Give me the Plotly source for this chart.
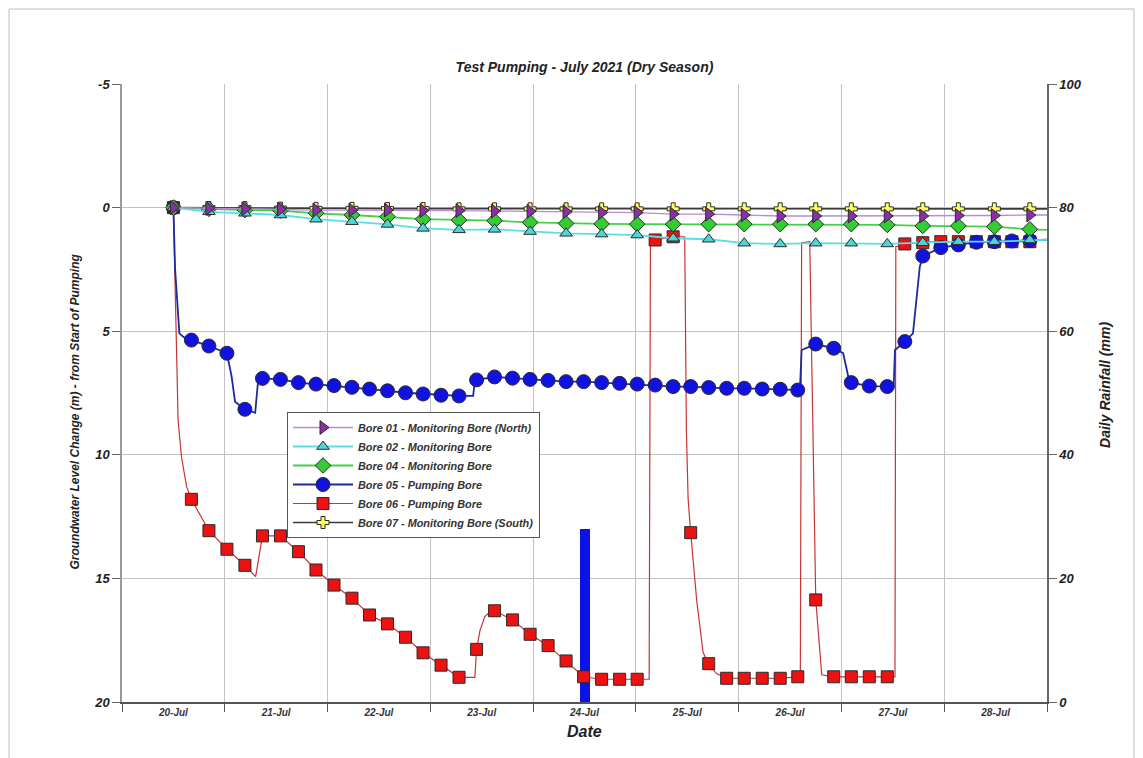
import plotly.graph_objects as go
import pandas as pd

# ---------------- DATA ----------------
BASE = pd.Timestamp("2021-07-20")

DATE_LABELS = ["20-Jul", "21-Jul", "22-Jul", "23-Jul", "24-Jul",
               "25-Jul", "26-Jul", "27-Jul", "28-Jul"]

GW_TICKS = [-5, 0, 5, 10, 15, 20]
GW_TICK_LABELS = ["-5", "0", "5", "10", "15", "20"]
RAIN_TICKS = [0, 20, 40, 60, 80, 100]

# Pumping-bore marker times (hours from 20-Jul 00:00)
PUMP_MARK_H = [12.0, 16.2, 20.3, 24.5, 28.7, 32.8, 37.0, 41.2, 45.3, 49.5, 53.7,
               57.8, 62.0, 66.2, 70.3, 74.5, 78.7, 82.8, 87.0, 91.2, 95.3,
               99.5, 103.7, 107.8, 112.0, 116.2, 120.3, 124.5, 128.7, 132.8, 137.0,
               141.2, 145.3, 149.5, 153.7, 157.8, 162.0, 166.2, 170.3, 174.5, 178.7,
               182.8, 187.0, 191.2, 195.3, 199.5, 203.7, 207.8, 212.0]

BORE06_MARK = [0.0, 11.80, 13.07, 13.82, 14.47, 13.28, 13.28, 13.92, 14.66, 15.27, 15.80,
               16.48, 16.84, 17.38, 18.01, 18.51, 19.00, 17.87, 16.31, 16.68, 17.26,
               17.72, 18.34, 18.98, 19.08, 19.08, 19.08, 1.31, 1.18, 13.15, 18.45,
               19.04, 19.04, 19.04, 19.04, 18.98, 15.87, 18.98, 18.98, 18.98, 18.98,
               1.47, 1.42, 1.38, 1.38, 1.38, 1.38, 1.38, 1.38]
# additional logged points of the Bore 06 trace (between markers)
BORE06_EXTRA_H = [12.6, 13.1, 13.9, 15.1, 31.2, 82.4, 83.6, 84.7, 85.9,
                  123.1, 123.4, 131.4, 131.8, 132.2, 134.2, 135.7, 138.8,
                  158.4, 158.7, 160.6, 163.4, 180.5, 180.7]
BORE06_EXTRA_V = [5.0, 8.6, 10.1, 11.3, 14.93, 19.0, 17.1, 16.55, 16.35,
                  19.08, 1.25, 1.18, 9.1, 11.8, 15.9, 18.0, 18.85,
                  18.98, 1.42, 1.38, 18.9, 18.98, 1.58]

BORE05_MARK = [0.0, 5.36, 5.60, 5.89, 8.16, 6.91, 6.95, 7.08, 7.14, 7.20, 7.27,
               7.34, 7.41, 7.49, 7.54, 7.59, 7.62, 6.97, 6.85, 6.90, 6.95,
               6.99, 7.04, 7.04, 7.08, 7.11, 7.14, 7.18, 7.24, 7.24, 7.28,
               7.31, 7.31, 7.34, 7.35, 7.38, 5.52, 5.69, 7.08, 7.22, 7.24,
               5.42, 1.96, 1.62, 1.51, 1.40, 1.38, 1.35, 1.33]
BORE05_EXTRA_H = [12.4, 13.4, 14.5, 25.6, 26.4, 31.1, 31.8, 82.0, 82.4,
                  158.3, 158.7, 168.4, 169.6, 180.2, 180.5, 184.7, 185.5, 186.3, 216.0]
BORE05_EXTRA_V = [2.5, 5.09, 5.25, 6.84, 7.85, 8.30, 6.97, 7.62, 6.97,
                  7.38, 5.76, 5.89, 6.84, 7.24, 5.76, 5.09, 3.74, 2.39, 1.30]

# Monitoring-bore marker times (hours from 20-Jul 00:00)
MON_MARK_H = [12.0, 20.3, 28.7, 37.0, 45.3, 53.7, 62.0, 70.3, 78.7, 87.0, 95.3,
              103.7, 112.0, 120.3, 128.7, 137.0, 145.3, 153.7, 162.0, 170.3,
              178.7, 187.0, 195.3, 203.7, 212.0]
MON_END_H = 216.0

BORE01_MARK = [0.0, 0.03, 0.05, 0.07, 0.10, 0.10, 0.10, 0.12, 0.12, 0.14, 0.15, 0.17,
               0.20, 0.20, 0.26, 0.26, 0.30, 0.34, 0.34, 0.34, 0.34, 0.34, 0.32, 0.32, 0.30]
BORE01_END = 0.30
BORE02_MARK = [0.0, 0.17, 0.23, 0.30, 0.47, 0.57, 0.68, 0.84, 0.90, 0.88, 0.97, 1.04,
               1.07, 1.11, 1.24, 1.28, 1.44, 1.47, 1.44, 1.44, 1.47, 1.42, 1.38, 1.38, 1.31]
BORE02_END = 1.30
BORE04_MARK = [0.0, 0.05, 0.10, 0.12, 0.23, 0.30, 0.37, 0.47, 0.50, 0.53, 0.60, 0.64,
               0.66, 0.67, 0.67, 0.67, 0.67, 0.67, 0.67, 0.67, 0.70, 0.74, 0.74, 0.77, 0.88]
BORE04_END = 0.90
BORE07_MARK = [0.0, 0.0, 0.0, 0.02, 0.03, 0.03, 0.04, 0.04, 0.05, 0.05, 0.05, 0.05,
               0.05, 0.05, 0.05, 0.05, 0.05, 0.05, 0.05, 0.05, 0.05, 0.05, 0.05, 0.05, 0.05]
BORE07_END = 0.05

RAIN_DATE = ["2021-07-24 12:00"]
RAIN_MM = [28.0]

SERIES_NAMES = ["Bore 01 - Monitoring Bore (North)", "Bore 02 - Monitoring Bore",
                "Bore 04 - Monitoring Bore", "Bore 05 - Pumping Bore",
                "Bore 06 - Pumping Bore", "Bore 07 - Monitoring Bore (South)"]

# ---------------- HELPERS ----------------
def to_dt(hours):
    return [BASE + pd.Timedelta(hours=h) for h in hours]

def merge(h1, v1, h2, v2):
    pts = sorted(zip(list(h1) + list(h2), list(v1) + list(v2)), key=lambda p: p[0])
    return [p[0] for p in pts], [p[1] for p in pts]

FONT = "Liberation Sans, Arial, sans-serif"
OUTLINE = "#2a2a2a"

STYLE = {
    SERIES_NAMES[0]: dict(sym="triangle-right", fill="#8B2FA8", line="#B98AD6", lw=1.3, size=12),
    SERIES_NAMES[1]: dict(sym="triangle-up", fill="#4ED6D6", line="#5CDDE3", lw=1.8, size=11),
    SERIES_NAMES[2]: dict(sym="diamond", fill="#33CC33", line="#45D045", lw=1.8, size=12),
    SERIES_NAMES[3]: dict(sym="circle", fill="#1212E0", line="#1E2A9C", lw=1.8, size=14),
    SERIES_NAMES[4]: dict(sym="square", fill="#EE1111", line="#C83535", lw=1.2, size=12),
    SERIES_NAMES[5]: dict(sym="cross", fill="#FFFF55", line="#3a3a3a", lw=1.6, size=10),
}

fig = go.Figure()

# rainfall bar on base axis (drawn beneath groundwater traces)
fig.add_trace(go.Bar(x=RAIN_DATE, y=RAIN_MM, width=8.4e6, marker_color="#0A14E6",
                     marker_line_width=0, showlegend=False, yaxis="y", xaxis="x"))

def add_series(name, line_h, line_v, mark_h, mark_v):
    s = STYLE[name]
    fig.add_trace(go.Scatter(x=to_dt(line_h), y=line_v, mode="lines",
                             line=dict(color=s["line"], width=s["lw"]),
                             showlegend=False, yaxis="y2", hoverinfo="skip"))
    fig.add_trace(go.Scatter(x=to_dt(mark_h), y=mark_v, mode="markers",
                             marker=dict(symbol=s["sym"], size=s["size"], color=s["fill"],
                                         line=dict(color=OUTLINE, width=1)),
                             showlegend=False, yaxis="y2", name=name))

# pumping bores
h, v = merge(PUMP_MARK_H, BORE06_MARK, BORE06_EXTRA_H, BORE06_EXTRA_V)
add_series(SERIES_NAMES[4], h, v, PUMP_MARK_H, BORE06_MARK)
h, v = merge(PUMP_MARK_H, BORE05_MARK, BORE05_EXTRA_H, BORE05_EXTRA_V)
add_series(SERIES_NAMES[3], h, v, PUMP_MARK_H, BORE05_MARK)

# monitoring bores
for name, vals, end in [(SERIES_NAMES[5], BORE07_MARK, BORE07_END),
                        (SERIES_NAMES[2], BORE04_MARK, BORE04_END),
                        (SERIES_NAMES[1], BORE02_MARK, BORE02_END),
                        (SERIES_NAMES[0], BORE01_MARK, BORE01_END)]:
    add_series(name, MON_MARK_H + [MON_END_H], vals + [end], MON_MARK_H, vals)

# legend entries
for name in SERIES_NAMES:
    s = STYLE[name]
    fig.add_trace(go.Scatter(x=[None], y=[None], mode="lines+markers", name=name,
                             line=dict(color=s["line"], width=s["lw"]),
                             marker=dict(symbol=s["sym"], size=s["size"], color=s["fill"],
                                         line=dict(color=OUTLINE, width=1)),
                             yaxis="y2"))

noon_ticks = [BASE + pd.Timedelta(hours=12 + 24 * i) for i in range(len(DATE_LABELS))]
midnights = [BASE + pd.Timedelta(days=i) for i in range(len(DATE_LABELS) + 1)]

GRID = "#c2c2c2"
AXIS = "#666666"

# page body has an 8px margin, so the figure is 8px smaller than the window
FIG_W, FIG_H = 1135, 750
ML, MR, MT, MB = 114, 96, 76, 56

fig.update_layout(
    width=FIG_W, height=FIG_H,
    margin=dict(l=ML, r=MR, t=MT, b=MB, autoexpand=False),
    paper_bgcolor="white", plot_bgcolor="white",
    font=dict(family=FONT, color="#222", style="italic", weight="bold"),
    title=dict(text="Test Pumping - July 2021 (Dry Season)", x=0.5, xref="paper",
               xanchor="center", y=1 - 59 / FIG_H, yref="container", yanchor="middle",
               font=dict(size=14, color="#222", family=FONT, style="italic", weight="bold")),
    bargap=0,
    xaxis=dict(type="date", range=[midnights[0], midnights[-1]],
               tickmode="array", tickvals=noon_ticks, ticktext=DATE_LABELS,
               ticks="", showgrid=False, zeroline=False,
               showline=True, linecolor="#555", linewidth=1.5,
               tickfont=dict(size=10, color="#333", family=FONT),
               minor=dict(tickmode="array", tickvals=midnights, ticks="outside",
                          ticklen=8, tickcolor="#555", tickwidth=1,
                          showgrid=True, gridcolor=GRID, gridwidth=1.2)),
    yaxis=dict(side="right", range=[0, 100], tickmode="array",
               tickvals=RAIN_TICKS, ticks="outside", ticklen=8,
               tickcolor=AXIS, showline=True, linecolor=AXIS, linewidth=1.5,
               showgrid=True, gridcolor=GRID, gridwidth=1.2, zeroline=False,
               tickfont=dict(size=13, color="#222", family=FONT)),
    yaxis2=dict(overlaying="y", side="left", range=[20, -5], tickmode="array",
                tickvals=GW_TICKS, ticktext=GW_TICK_LABELS, ticks="outside", ticklen=8,
                tickcolor=AXIS, showline=True, linecolor="#999", linewidth=1.5,
                showgrid=False, zeroline=False,
                tickfont=dict(size=13, color="#222", family=FONT)),
    legend=dict(x=(287 - 122) / 925, y=(702 - 412) / 618, xanchor="left", yanchor="top",
                bgcolor="white", bordercolor="#555", borderwidth=1,
                font=dict(size=10.9, color="#333", family=FONT),
                itemwidth=60, tracegroupgap=0, traceorder="normal"),
    showlegend=True,
    annotations=[
        dict(text="Date", x=0.5, y=(702 - 731) / 618, xref="paper", yref="paper",
             showarrow=False, xanchor="center", yanchor="middle",
             font=dict(size=16, color="#222", family=FONT)),
        dict(text="Groundwater Level Change (m) - from Start of Pumping",
             x=(75 - 122) / 925, y=0.47, xref="paper", yref="paper", textangle=-90,
             showarrow=False, xanchor="center", yanchor="middle",
             font=dict(size=12, color="#222", family=FONT)),
        dict(text="Daily Rainfall (mm)", x=(1105 - 122) / 925, y=0.513,
             xref="paper", yref="paper", textangle=-90,
             showarrow=False, xanchor="center", yanchor="middle",
             font=dict(size=14, color="#222", family=FONT)),
    ],
    shapes=[dict(type="rect", xref="paper", yref="paper",
                 x0=(9 - 122) / 925, x1=(1134 - 122) / 925,
                 y0=(702 - 765) / 618, y1=(702 - 9) / 618,
                 line=dict(color="#bdbdbd", width=1), layer="below")],
)

fig.write_html("out.html")
